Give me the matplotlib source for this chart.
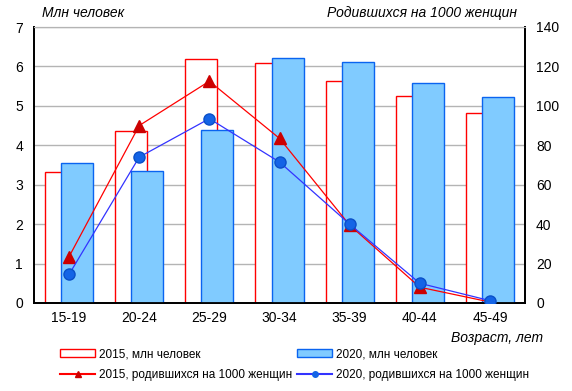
import numpy as np
import matplotlib
matplotlib.use("Agg")
import matplotlib.pyplot as plt
from matplotlib.lines import Line2D
from matplotlib.patches import Patch

# values
age_groups = ["15-19", "20-24", "25-29", "30-34", "35-39", "40-44", "45-49"]
women_2015 = [3.31, 4.35, 6.19, 6.09, 5.62, 5.26, 4.81]   # млн человек
women_2020 = [3.54, 3.36, 4.40, 6.22, 6.10, 5.59, 5.22]
births_2015 = [23.5, 90.0, 112.5, 83.5, 39.5, 8.0, 0.5]    # на 1000 женщин
births_2020 = [14.5, 74.0, 93.5, 71.5, 40.0, 10.0, 1.2]

RED = "#ff0000"
DARK_RED = "#cc0000"
BLUE_EDGE = "#0a64f0"
BLUE_FILL = "#80cbff"
LINE_BLUE = "#3333ff"
MARKER_BLUE = "#1464e6"

plt.rcParams["font.family"] = ["Liberation Sans", "DejaVu Sans"]

fig = plt.figure(figsize=(5.72, 3.91), dpi=100)
ax = fig.add_axes([34 / 572, 88 / 391, 491 / 572, 276 / 391])
ax2 = ax.twinx()

x = np.arange(len(age_groups))
width = 0.455
shift = 0.115

ax.bar(x - shift, women_2015, width, facecolor="white", edgecolor=RED,
       linewidth=1.0, zorder=2)
ax.bar(x + shift, women_2020, width, facecolor=BLUE_FILL, edgecolor=BLUE_EDGE,
       linewidth=1.0, zorder=3)

ax.set_xlim(-0.5, len(age_groups) - 0.5)
ax.set_ylim(0, 7)
ax.set_yticks(range(0, 8))
ax.set_xticks(x)
ax.set_xticklabels(age_groups)
ax.grid(axis="y", color="#b4b4b4", linewidth=1.0, zorder=0)
ax.set_axisbelow(True)
ax.tick_params(axis="both", length=0, labelsize=10, pad=6)
ax.tick_params(axis="y", pad=8)

ax2.plot(x, births_2015, color=RED, linewidth=0.9, marker="^", markersize=8,
         markerfacecolor=DARK_RED, markeredgecolor=DARK_RED, zorder=4)
ax2.plot(x, births_2020, color=LINE_BLUE, linewidth=0.9, marker="o", markersize=8,
         markerfacecolor=MARKER_BLUE, markeredgecolor="#0a50c8", zorder=5)
ax2.set_ylim(0, 140)
ax2.set_yticks(range(0, 141, 20))
ax2.tick_params(axis="y", length=0, labelsize=10, pad=8)

for a in (ax, ax2):
    a.spines["top"].set_color("#b4b4b4")
    for side in ("left", "right", "bottom"):
        a.spines[side].set_color("black")
        a.spines[side].set_linewidth(1.3)

fig.text(42 / 572, 1 - 13 / 391, "Млн человек", style="italic", fontsize=10,
         ha="left", va="center")
fig.text(517 / 572, 1 - 13 / 391, "Родившихся на 1000 женщин", style="italic",
         fontsize=10, ha="right", va="center")
fig.text(543 / 572, 1 - 338 / 391, "Возраст, лет", style="italic", fontsize=10,
         ha="right", va="center")

left_handles = [
    Patch(facecolor="white", edgecolor=RED, label="2015, млн человек"),
    Line2D([0], [0], color=RED, marker="^", markersize=5, markerfacecolor=DARK_RED,
           markeredgecolor=DARK_RED, label="2015, родившихся на 1000 женщин"),
]
right_handles = [
    Patch(facecolor=BLUE_FILL, edgecolor=BLUE_EDGE, label="2020, млн человек"),
    Line2D([0], [0], color=LINE_BLUE, marker="o", markersize=4,
           markerfacecolor=MARKER_BLUE, markeredgecolor=MARKER_BLUE,
           label="2020, родившихся на 1000 женщин"),
]
legend_style = dict(loc="lower left", frameon=False, fontsize=8.5,
                    handlelength=3.0, handleheight=0.7, labelspacing=0.75,
                    handletextpad=0.3, borderaxespad=0, borderpad=0)
fig.legend(handles=left_handles, bbox_to_anchor=(60 / 572, 10 / 391),
           **legend_style)
fig.legend(handles=right_handles, bbox_to_anchor=(297 / 572, 10 / 391),
           **legend_style)

fig.savefig("out.png", dpi=100)
